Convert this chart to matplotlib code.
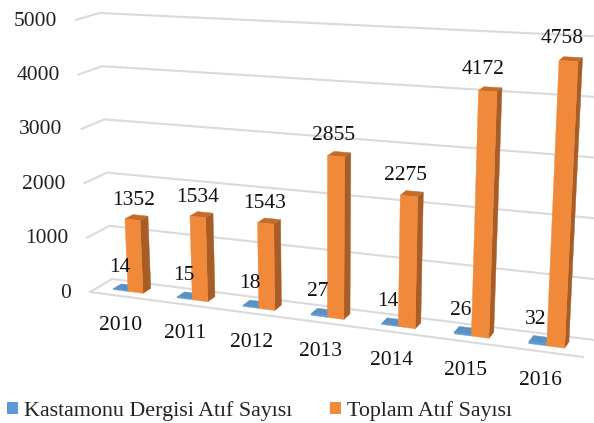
import matplotlib
matplotlib.use("Agg")
import matplotlib.pyplot as plt
from matplotlib.patches import Polygon, Patch

plt.rcParams['font.family'] = ['Liberation Serif', 'DejaVu Serif']

years = ['2010', '2011', '2012', '2013', '2014', '2015', '2016']
kastamonu = [14, 15, 18, 27, 14, 26, 32]
toplam = [1352, 1534, 1543, 2855, 2275, 4172, 4758]
ticks = [0, 1000, 2000, 3000, 4000, 5000]
names = ['Kastamonu Dergisi Atıf Sayısı', 'Toplam Atıf Sayısı']

VMAX = 5000
BAR_W = 0.235
BAR_SCALE = 0.985
D0, D1 = 0.35, 0.72

def u_of(c):
    return (30.3 + 63 * c + 1.1 * c * c) / 488

def proj_u(u, v, d):
    xf, yf = 90 + 493 * u, 292 + 65 * u
    xb, yb = 112 + 482 * u, 279 + 61 * u
    x0 = xf + (xb - xf) * d
    y0 = yf + (yb - yf) * d
    H = (272 + 38 * u) * (1 - d) + (266 + 37 * u) * d
    return (x0 + (x0 - 325) * 0.0596 * v / VMAX, y0 - H * v / VMAX)

def proj(c, v, d):
    return proj_u(u_of(c), v, d)

def draw_bar(ax, c0, c1, v, face, side, top):
    p = proj
    v = v * BAR_SCALE
    ax.add_patch(Polygon([p(c1, 0, D0), p(c1, 0, D1), p(c1, v, D1), p(c1, v, D0)],
                         fc=side, ec=side, lw=0.3, zorder=3))
    ax.add_patch(Polygon([p(c0, v, D0), p(c1, v, D0), p(c1, v, D1), p(c0, v, D1)],
                         fc=top, ec=top, lw=0.3, zorder=3))
    ax.add_patch(Polygon([p(c0, 0, D0), p(c1, 0, D0), p(c1, v, D0), p(c0, v, D0)],
                         fc=face, ec=face, lw=0.3, zorder=3))

fig = plt.figure(figsize=(5.94, 4.23), dpi=100, facecolor='white')
ax = fig.add_axes([0, 0, 1, 1])
ax.set_xlim(0, 594)
ax.set_ylim(423, 0)
ax.axis('off')

GRID = '#DADADA'
FS = 15.5
for t in ticks:
    a = proj_u(0, t, 0)
    b = proj_u(0, t, 1)
    c = proj_u(1.02, t, 1)
    xs, ys = zip(a, b, c)
    ax.plot(xs, ys, color=GRID, lw=1.5, solid_joinstyle='miter', zorder=1)
    ax.text(a[0] - 19, a[1] + 1, str(t), ha='right', va='center', fontsize=FS, color='#222222')
f0, f1 = proj_u(0, 0, 0), proj_u(1, 0, 0)
ax.plot([f0[0], f1[0]], [f0[1], f1[1]], color=GRID, lw=1.5, zorder=1)

for i, (k, s) in enumerate(zip(kastamonu, toplam)):
    draw_bar(ax, i - BAR_W, i, k, '#5B9BD5', '#3F7AAE', '#5A90C2')
    draw_bar(ax, i, i + BAR_W, s, '#F08A3A', '#A85C26', '#C46C2A')

for i, (y, k, s) in enumerate(zip(years, kastamonu, toplam)):
    x, yy = proj(i + BAR_W / 2, s, (D0 + D1) / 2)
    ax.text(x - 3 - i * 0.9, yy - 16, str(s), ha='center', va='center', fontsize=FS, color='#111111', zorder=5)
    x, yy = proj(i - BAR_W / 2, k, (D0 + D1) / 2)
    ax.text(x - 4.5, yy - 20, str(k), ha='center', va='center', fontsize=FS, color='#111111', zorder=5)
    x, yy = proj(i - 0.1, 0, 0)
    ax.text(x + 6, yy + 30, y, ha='center', va='center', fontsize=FS, color='#111111', zorder=5)

handles = [Patch(fc='#5B9BD5', ec='none'), Patch(fc='#F08A3A', ec='none')]
ax.legend(handles, names, loc='lower left', bbox_to_anchor=(7 / 594, 2 / 423), ncols=2, frameon=False,
          fontsize=15.8, handlelength=0.5, handleheight=0.5, handletextpad=0.27,
          columnspacing=1.74, borderaxespad=0, borderpad=0, labelcolor='#222222')

fig.savefig('out.png', dpi=100, facecolor='white')
